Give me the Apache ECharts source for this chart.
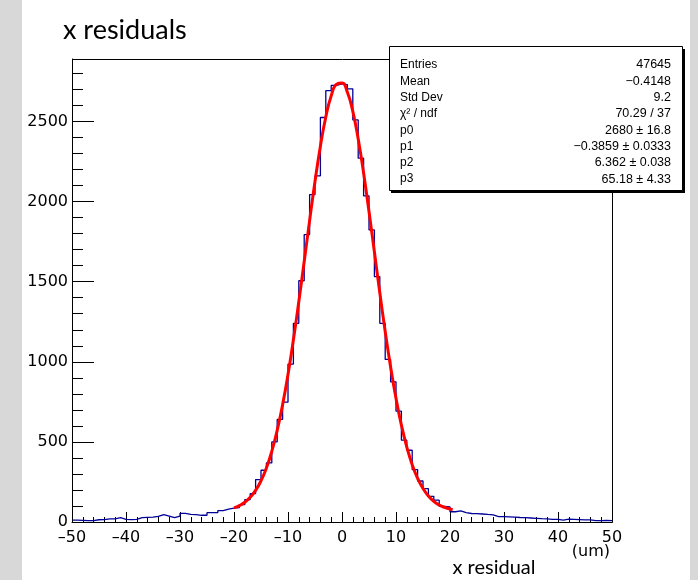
<!DOCTYPE html>
<html><head><meta charset="utf-8">
<script src="https://cdn.jsdelivr.net/npm/echarts@6/dist/echarts.min.js"></script>
<style>html,body{margin:0;padding:0;background:#d8d8d8;} #c{width:698px;height:580px;}</style>
</head><body><div id="c"></div><script>
// histogram: 100 bins of width 1 from -50 to 50
const binLow = -50;
const binWidth = 1;
const counts = [
  12,10,8,9,14,15,19,19,27,17,
  15,17,27,29,31,35,46,37,27,37,
  54,48,46,42,42,58,58,71,81,87,
  90,108,140,177,265,323,369,500,640,748,
  986,1240,1506,1794,2044,2161,2525,2692,2725,2735,
  2730,2704,2510,2271,2036,1823,1532,1240,1015,875,
  692,511,448,327,256,208,160,136,98,94,
  64,70,58,53,52,50,47,45,34,33,
  32,30,28,27,25,23,21,20,17,16,
  12,18,17,15,13,13,9,8,10,9
];
// red fit curve
const fitX = [-20,-19,-18,-17,-16,-15,-14,-13,-12,-11,-10,-9,-8,-7,-6,-5,-4,-3,-2,-1,0,1,2,3,4,5,6,7,8,9,10,11,12,13,14,15,16,17,18,19,20,20.5];
const fitY = [88,102,123,154,197,257,337,441,572,732,921,1137,1375,1626,1881,2125,2346,2528,2660,2733,2740,2682,2563,2391,2178,1938,1685,1431,1189,968,772,605,468,358,273,209,162,129,106,91,81,77];
const xLabelTicks = [-50,-40,-30,-20,-10,0,10,20,30,40,50];
const yLabelTicks = [0,500,1000,1500,2000,2500];
const statsLabels = ['Entries','Mean','Std Dev','\u03c7\u00b2 / ndf','p0','p1','p2','p3'];
const statsValues = ['47645','\u22120.4148','9.2','70.29 / 37','2680 \u00b1 16.8','\u22120.3859 \u00b1 0.0333','6.362 \u00b1 0.038','65.18 \u00b1 4.33'];
const titleText = 'x residuals';
const xTitle = 'x residual';
const xUnit = '(um)';

const histData = counts.map((v, i) => [binLow + i * binWidth, v]);
histData.push([binLow + counts.length * binWidth, counts[counts.length - 1]]);
const fitData = fitX.map((x, i) => [x, fitY[i]]);

const G = {left: 72, top: 59, right: 612, bottom: 522};
const axisFont = '"DejaVu Sans", "Liberation Sans", sans-serif';
const fmtNum = v => (v < 0 ? '\u2013' + Math.abs(v) : String(v));

const chart = echarts.init(document.getElementById('c'), null, {renderer: 'canvas'});
const statsGraphics = [];
const rowY0 = 65, rowDy = 16.3;
statsLabels.forEach((t, i) => {
  statsGraphics.push({type: 'text', z: 102, style: {x: 400, y: rowY0 + i * rowDy, text: t, fill: '#000', font: '12px "Liberation Sans", Arial, sans-serif', align: 'left', verticalAlign: 'middle'}});
  statsGraphics.push({type: 'text', z: 102, style: {x: 671, y: rowY0 + i * rowDy, text: statsValues[i], fill: '#000', font: '12.5px "Liberation Sans", Arial, sans-serif', align: 'right', verticalAlign: 'middle'}});
});

chart.setOption({
  animation: false,
  backgroundColor: 'transparent',
  grid: {left: G.left, top: G.top, width: G.right - G.left, height: G.bottom - G.top, show: false},
  xAxis: [
    {type: 'value', min: -50, max: 50, interval: 2, position: 'bottom',
     axisLine: {show: true, onZero: false, lineStyle: {color: '#000', width: 1}},
     axisTick: {show: true, inside: true, length: 5, lineStyle: {color: '#000'}},
     axisLabel: {show: true, margin: 8, color: '#000', fontSize: 16, fontFamily: axisFont,
       formatter: v => (xLabelTicks.indexOf(v) >= 0 ? fmtNum(v) : '')},
     splitLine: {show: false}},
    {type: 'value', min: -50, max: 50, interval: 10, position: 'bottom',
     axisLine: {show: false, onZero: false},
     axisTick: {show: true, inside: true, length: 10, lineStyle: {color: '#000'}},
     axisLabel: {show: false}, splitLine: {show: false}}
  ],
  yAxis: [
    {type: 'value', min: 0, max: 2890, interval: 100, position: 'left',
     axisLine: {show: true, onZero: false, lineStyle: {color: '#000', width: 1}},
     axisTick: {show: true, inside: true, length: 11, lineStyle: {color: '#000'}},
     axisLabel: {show: true, margin: 4, color: '#000', fontSize: 16, fontFamily: axisFont,
       showMaxLabel: false,
       formatter: v => (yLabelTicks.indexOf(v) >= 0 ? String(v) : '')},
     splitLine: {show: false}},
    {type: 'value', min: 0, max: 2890, interval: 500, position: 'left',
     axisLine: {show: false, onZero: false},
     axisTick: {show: true, inside: true, length: 22, lineStyle: {color: '#000'}},
     axisLabel: {show: false}, splitLine: {show: false}}
  ],
  series: [
    {type: 'line', name: 'hist', data: histData, step: 'end', showSymbol: false, symbol: 'none',
     xAxisIndex: 0, yAxisIndex: 0, lineStyle: {color: '#000099', width: 1.3}, z: 3, silent: true},
    {type: 'line', name: 'fit', data: fitData, smooth: true, showSymbol: false, symbol: 'none',
     xAxisIndex: 0, yAxisIndex: 0, lineStyle: {color: '#ff0000', width: 3}, z: 4, silent: true}
  ],
  graphic: [
    {type: 'rect', z: -10, silent: true, shape: {x: 22, y: 0, width: 668, height: 580}, style: {fill: '#ffffff'}},
    {type: 'rect', z: 20, silent: true, shape: {x: G.left + 0.5, y: G.top + 0.5, width: G.right - G.left, height: G.bottom - G.top}, style: {fill: 'none', stroke: '#000', lineWidth: 1}},
    {type: 'text', z: 50, style: {x: 63, y: 30, text: titleText, fill: '#000', font: '27px Lato, "Open Sans", sans-serif', align: 'left', verticalAlign: 'middle'}},
    {type: 'text', z: 50, style: {x: 494, y: 568, text: xTitle, fill: '#000', font: '20px Lato, "Open Sans", sans-serif', align: 'center', verticalAlign: 'middle'}},
    {type: 'text', z: 50, style: {x: 610, y: 552, text: xUnit, fill: '#000', font: '16px ' + axisFont, align: 'right', verticalAlign: 'middle'}},
    {type: 'rect', z: 100, silent: true, shape: {x: 391, y: 49, width: 294, height: 144}, style: {fill: '#000'}},
    {type: 'rect', z: 101, silent: true, shape: {x: 389.5, y: 46.5, width: 293, height: 144}, style: {fill: '#fff', stroke: '#000', lineWidth: 1}}
  ].concat(statsGraphics)
});
</script></body></html>
